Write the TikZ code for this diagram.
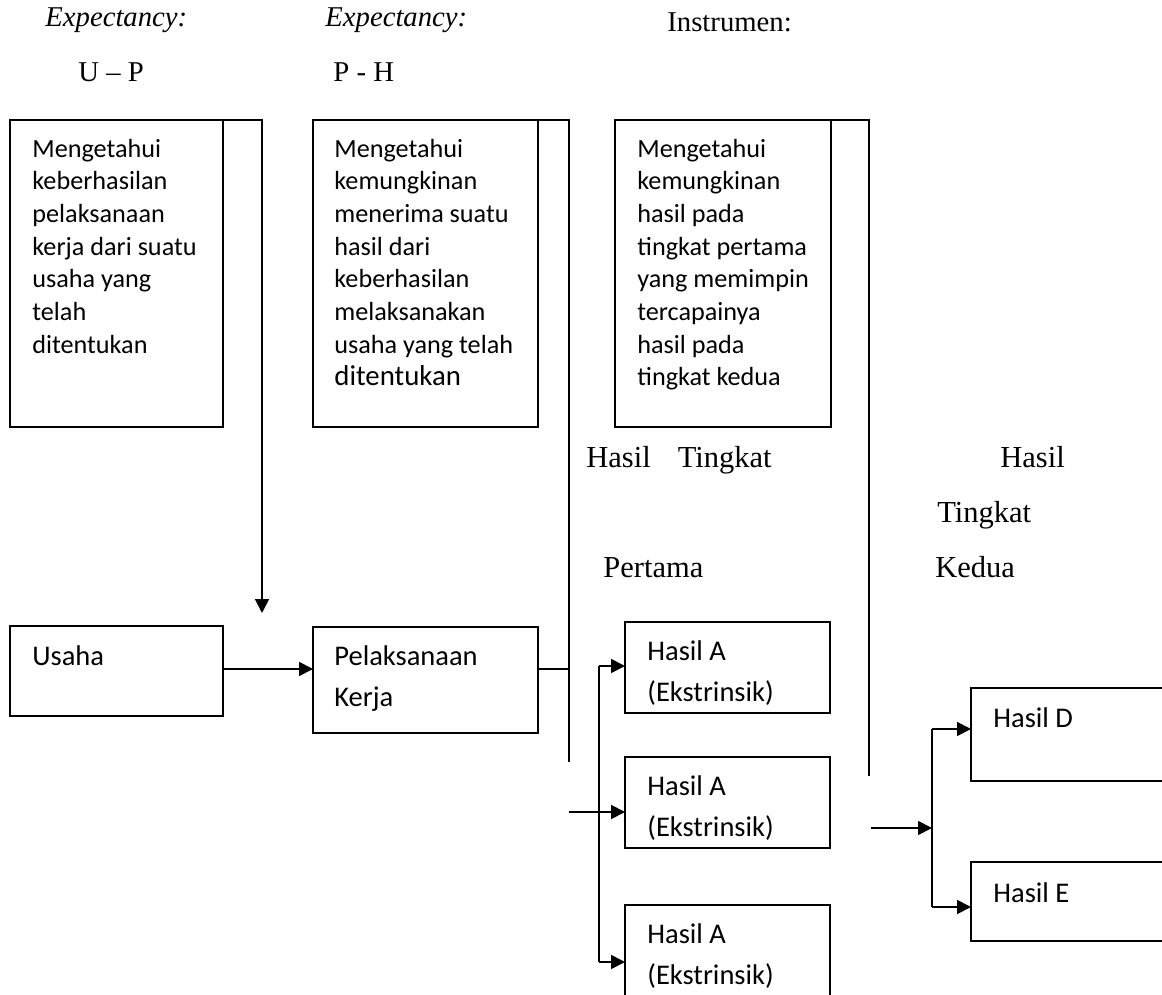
\documentclass[tikz,border=0pt]{standalone}
\usepackage{fontspec}
\setmainfont{Liberation Serif}
\newfontfamily\carlito{Carlito}
\usetikzlibrary{arrows.meta}
\begin{document}
\begin{tikzpicture}[x=0.5pt,y=-0.5pt,
  box/.style={draw,line width=0.9pt,inner sep=0pt,outer sep=0pt,anchor=north west},
  conn/.style={line width=0.9pt},
  arr/.style={conn,-{Triangle[length=7pt,width=7pt]}},
  lbl/.style={anchor=base west,inner sep=0pt,font=\fontsize{14.35pt}{17pt}\selectfont},
  mlbl/.style={anchor=base west,inner sep=0pt,font=\fontsize{15.25pt}{18pt}\selectfont},
  btxt/.style={anchor=base west,inner sep=0pt,font=\carlito\fontsize{13.1pt}{16.35pt}\selectfont},
  stxt/.style={anchor=base west,inner sep=0pt,font=\carlito\fontsize{14.25pt}{20.5pt}\selectfont},
]
\useasboundingbox (0,0) rectangle (1162,995);
\clip (0,0) rectangle (1162,995);

% top labels
\node[lbl] (e1) at (45,27) {\textit{Expectancy:}};
\node[lbl] (e2) at (325,27) {\textit{Expectancy:}};
\node[lbl] (ins) at (667,32) {Instrumen:};
\node[lbl] (up) at (78,82) {U – P};
\node[lbl] (ph) at (333,82) {P - H};

% upper boxes
\node[box,minimum width=106.5pt,minimum height=153.5pt] (b1) at (10,120) {};
\node[box,minimum width=112.5pt,minimum height=153.5pt] (b2) at (313,120) {};
\node[box,minimum width=108pt,minimum height=153.5pt] (b3) at (615,120) {};

\node[btxt] (t1) at (32,157) {\parbox[t]{150pt}{Mengetahui\\keberhasilan\\pelaksanaan\\kerja dari suatu\\usaha yang\\telah\\ditentukan}};
\node[btxt] (t2) at (334,157) {\parbox[t]{150pt}{Mengetahui\\kemungkinan\\menerima suatu\\hasil dari\\keberhasilan\\melaksanakan\\usaha yang telah\\{\fontsize{14.4pt}{16.35pt}\selectfont ditentukan}}};
\node[btxt] (t3) at (637,157) {\parbox[t]{150pt}{Mengetahui\\kemungkinan\\hasil pada\\tingkat pertama\\yang memimpin\\tercapainya\\hasil pada\\tingkat kedua}};

% middle labels
\node[mlbl] (ht1) at (586,467) {Hasil\hspace{13.5pt}Tingkat};
\node[mlbl] (pt) at (603,577) {Pertama};
\node[mlbl] (h2) at (1000,467) {Hasil};
\node[mlbl] (tk2) at (937,522) {Tingkat};
\node[mlbl] (kd) at (935,577) {Kedua};

% lower boxes
\node[box,minimum width=106.5pt,minimum height=45pt] (us) at (10,626) {};
\node[stxt] (ust) at (32,665) {Usaha};
\node[box,minimum width=112.5pt,minimum height=53pt] (pel) at (313,627) {};
\node[stxt] (pelt) at (334,665) {\parbox[t]{150pt}{Pelaksanaan\\Kerja}};

\node[box,minimum width=102.5pt,minimum height=45.5pt] (a1) at (625,622) {};
\node[box,minimum width=102.5pt,minimum height=45.5pt] (a2) at (625,757) {};
\node[box,minimum width=102.5pt,minimum height=50pt] (a3) at (625,905) {};
\node[stxt] (a1t) at (647,660) {\parbox[t]{150pt}{Hasil A\\(Ekstrinsik)}};
\node[stxt] (a2t) at (647,795) {\parbox[t]{150pt}{Hasil A\\(Ekstrinsik)}};
\node[stxt] (a3t) at (647,943) {\parbox[t]{150pt}{Hasil A\\(Ekstrinsik)}};

\node[box,minimum width=105pt,minimum height=46.5pt] (hd) at (971,688) {};
\node[box,minimum width=105pt,minimum height=39.5pt] (he) at (971,862) {};
\node[stxt] (hdt) at (993,727) {Hasil D};
\node[stxt] (het) at (993,902) {Hasil E};

% helper coordinates
\coordinate (k1) at (262,120);
\coordinate (k1e) at (262,613);
\coordinate (k2) at (569,120);
\coordinate (k2e) at (569,762);
\coordinate (k3) at (869,120);
\coordinate (k3e) at (869,776);
\coordinate (r1) at (0,669);
\coordinate (s1) at (599,666);
\coordinate (s3) at (599,962);
\coordinate (s2) at (569,812);
\coordinate (q0) at (871,828);
\coordinate (q1) at (932,828);
\coordinate (qd) at (932,729);
\coordinate (qe) at (932,907);

% brackets
\draw[arr] (b1.north east) -- (k1) -- (k1e);
\draw[conn] (b2.north east) -- (k2) -- (k2e);
\draw[conn] (b3.north east) -- (k3) -- (k3e);

% flow
\draw[arr] (us.east |- r1) -- (pel.west |- r1);
\draw[conn] (pel.east |- r1) -- (k2 |- r1);
\draw[conn] (s1) -- (s3);
\draw[arr] (s1) -- (a1.west |- s1);
\draw[arr] (s2) -- (a2.west |- s2);
\draw[arr] (s3) -- (a3.west |- s3);
\draw[arr] (q0) -- (q1);
\draw[conn] (qd) -- (qe);
\draw[arr] (qd) -- (hd.west |- qd);
\draw[arr] (qe) -- (he.west |- qe);
\end{tikzpicture}
\end{document}
